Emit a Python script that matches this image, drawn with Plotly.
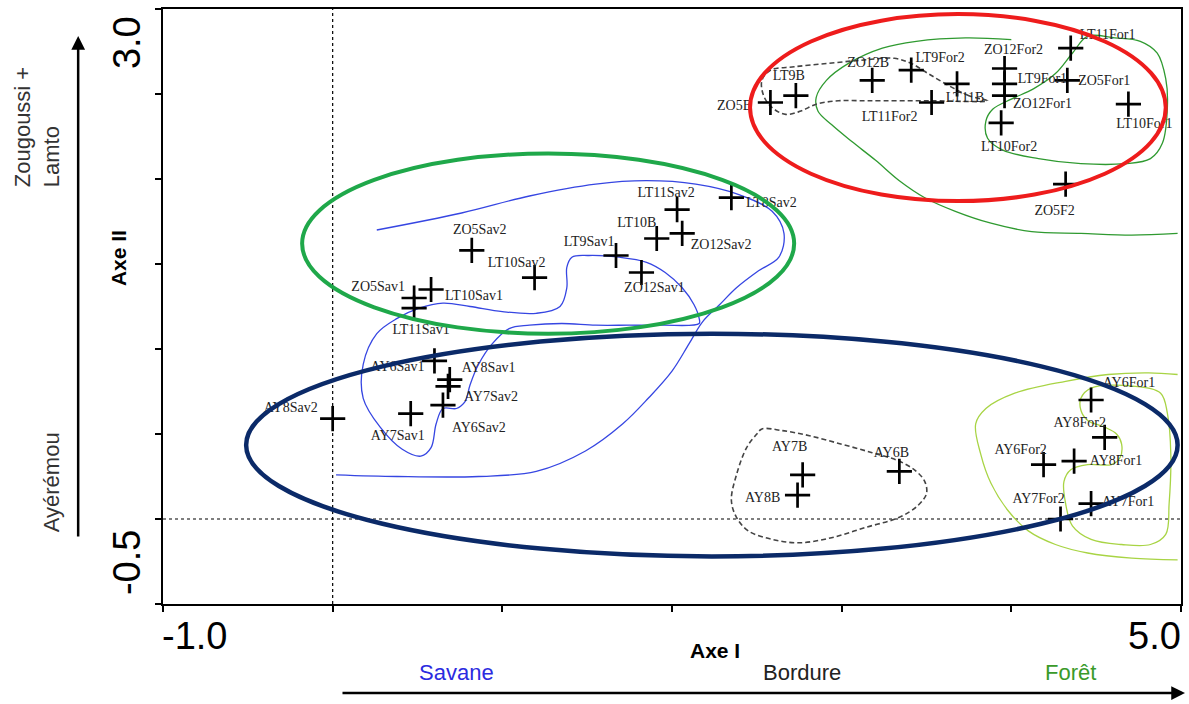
import plotly.graph_objects as go

# ---------------------------------------------------------------- axes
X_RANGE = [-1.0, 5.0]
Y_RANGE = [-0.5, 3.0]

# ---------------------------------------------------------------- samples (Axe I, Axe II)
# Zougoussi + Lamto : forest and forest-edge samples
zl_forest_names = ["ZO5B", "LT9B", "ZO12B", "LT9For2", "LT11B", "LT11For2", "ZO12For2",
                   "LT9For1", "ZO12For1", "LT10For2", "LT11For1", "ZO5For1", "LT10For1", "ZO5F2"]
zl_forest_x = [2.58, 2.73, 3.18, 3.41, 3.68, 3.53, 3.96, 3.96, 3.96, 3.94, 4.35, 4.33, 4.69, 4.32]
zl_forest_y = [2.45, 2.49, 2.58, 2.64, 2.56, 2.45, 2.65, 2.56, 2.49, 2.33, 2.77, 2.58, 2.44, 1.97]

# Zougoussi + Lamto : savanna samples
zl_savane_names = ["LT8Sav2", "LT11Sav2", "LT10B", "ZO12Sav2", "LT9Sav1", "ZO12Sav1",
                   "ZO5Sav2", "LT10Sav2", "ZO5Sav1", "LT10Sav1", "LT11Sav1"]
zl_savane_x = [2.35, 2.03, 1.91, 2.06, 1.67, 1.82, 0.82, 1.19, 0.48, 0.58, 0.48]
zl_savane_y = [1.89, 1.82, 1.65, 1.68, 1.55, 1.45, 1.58, 1.42, 1.30, 1.35, 1.24]

# Ayérémou : savanna samples
ay_savane_names = ["AY8Sav2", "AY6Sav1", "AY8Sav1", "AY7Sav2", "AY6Sav2", "AY7Sav1"]
ay_savane_x = [0.00, 0.60, 0.69, 0.68, 0.65, 0.46]
ay_savane_y = [0.59, 0.93, 0.82, 0.78, 0.67, 0.62]

# Ayérémou : forest-edge samples
ay_bordure_names = ["AY7B", "AY8B", "AY6B"]
ay_bordure_x = [2.77, 2.74, 3.34]
ay_bordure_y = [0.26, 0.14, 0.28]

# Ayérémou : forest samples
ay_foret_names = ["AY6For1", "AY8For2", "AY6For2", "AY8For1", "AY7For2", "AY7For1"]
ay_foret_x = [4.47, 4.55, 4.19, 4.37, 4.29, 4.47]
ay_foret_y = [0.70, 0.48, 0.32, 0.34, 0.00, 0.09]

# ---------------------------------------------------------------- hand-drawn envelopes
savane_outer_x = [0.26, 0.76, 1.16, 1.55, 1.85, 2.14, 2.39, 2.59, 2.66, 2.63, 2.51, 2.38, 2.28,
                  2.18, 2.10, 2.00, 1.86, 1.71, 1.49, 1.20, 0.86, 0.38, 0.02]
savane_outer_y = [1.70, 1.80, 1.90, 1.97, 1.99, 1.97, 1.91, 1.81, 1.68, 1.54, 1.46, 1.36, 1.26,
                  1.16, 1.03, 0.87, 0.71, 0.56, 0.40, 0.28, 0.25, 0.25, 0.26]

savane_inner_x = [2.16, 1.94, 1.75, 1.55, 1.35, 1.16, 1.04, 0.94, 0.86, 0.81, 0.78, 0.73, 0.65,
                  0.61, 0.58, 0.52, 0.41, 0.28, 0.18, 0.18, 0.26, 0.38, 0.51, 0.65, 0.81, 1.00,
                  1.20, 1.34, 1.38, 1.38, 1.41, 1.51, 1.69, 1.85, 1.96, 2.06, 2.13, 2.16, 2.16]
savane_inner_y = [1.15, 1.14, 1.14, 1.14, 1.15, 1.14, 1.12, 1.03, 0.91, 0.79, 0.69, 0.65, 0.65,
                  0.56, 0.42, 0.37, 0.41, 0.54, 0.71, 0.91, 1.09, 1.18, 1.24, 1.27, 1.25, 1.22,
                  1.21, 1.25, 1.36, 1.48, 1.54, 1.55, 1.54, 1.51, 1.45, 1.36, 1.26, 1.18, 1.15]

foret_zl_outer_x = [4.00, 3.73, 3.44, 3.24, 3.04, 2.91, 2.85, 2.86, 2.94, 3.06, 3.20, 3.34, 3.49,
                    3.67, 3.88, 4.12, 4.41, 4.71, 4.98]
foret_zl_outer_y = [2.82, 2.83, 2.81, 2.77, 2.68, 2.58, 2.48, 2.40, 2.32, 2.22, 2.11, 1.99, 1.89,
                    1.81, 1.74, 1.69, 1.68, 1.67, 1.68]

foret_zl_inner_x = [4.45, 4.61, 4.76, 4.86, 4.91, 4.92, 4.89, 4.82, 4.67, 4.41, 4.16, 3.95, 3.86,
                    3.85, 3.89, 4.00, 4.13, 4.26, 4.36, 4.45]
foret_zl_inner_y = [2.84, 2.83, 2.81, 2.74, 2.59, 2.43, 2.21, 2.12, 2.09, 2.09, 2.12, 2.17, 2.24,
                    2.34, 2.41, 2.47, 2.53, 2.62, 2.74, 2.84]

bordure_zl_x = [3.86, 3.75, 3.63, 3.51, 3.41, 3.31, 3.13, 2.92, 2.72, 2.58, 2.53, 2.54, 2.59,
                2.67, 2.76, 2.85, 2.98, 3.16, 3.53, 3.86]
bordure_zl_y = [2.46, 2.49, 2.55, 2.62, 2.68, 2.71, 2.70, 2.68, 2.66, 2.64, 2.58, 2.49, 2.42,
                2.38, 2.40, 2.44, 2.46, 2.46, 2.46, 2.46]

bordure_ay_x = [2.53, 2.65, 2.81, 3.00, 3.18, 3.34, 3.44, 3.49, 3.50, 3.45, 3.34, 3.14, 2.94,
                2.75, 2.59, 2.45, 2.38, 2.35, 2.38, 2.44, 2.50, 2.53]
bordure_ay_y = [0.53, 0.52, 0.49, 0.44, 0.39, 0.34, 0.28, 0.22, 0.15, 0.08, 0.01, -0.05, -0.11,
                -0.14, -0.12, -0.07, 0.01, 0.11, 0.26, 0.42, 0.50, 0.53]

foret_ay_outer_x = [4.98, 4.81, 4.57, 4.32, 4.02, 3.85, 3.79, 3.82, 3.88, 3.98, 4.10, 4.26, 4.45,
                    4.71, 4.98]
foret_ay_outer_y = [0.85, 0.86, 0.85, 0.81, 0.74, 0.65, 0.56, 0.38, 0.21, 0.05, -0.07, -0.15,
                    -0.20, -0.23, -0.24]

foret_ay_inner_x = [4.47, 4.73, 4.88, 4.92, 4.94, 4.93, 4.91, 4.82, 4.65, 4.47, 4.36, 4.32, 4.31,
                    4.35, 4.45, 4.59, 4.64, 4.65, 4.62, 4.55, 4.45, 4.41, 4.41, 4.47]
foret_ay_inner_y = [0.77, 0.78, 0.74, 0.62, 0.38, 0.09, -0.09, -0.15, -0.15, -0.12, -0.04, 0.09,
                    0.22, 0.29, 0.32, 0.32, 0.36, 0.44, 0.50, 0.54, 0.58, 0.64, 0.71, 0.77]

# ---------------------------------------------------------------- group ellipses [x0, x1, y0, y1]
ellipse_zl_foret = [2.46, 4.91, 1.87, 2.97]
ellipse_zl_savane = [-0.18, 2.72, 1.09, 2.15]
ellipse_ayeremou = [-0.51, 4.98, -0.22, 1.09]

# ---------------------------------------------------------------- label placement (pixels: right, down)
label_offset = {
    "ZO5B": (-36, 4), "LT9B": (-7, -19), "ZO12B": (-4, -17), "LT9For2": (29, -12),
    "LT11B": (8, 15), "LT11For2": (-42, 15), "ZO12For2": (9, -18), "LT9For1": (38, -4),
    "ZO12For1": (38, 9), "LT10For2": (8, 25), "LT11For1": (37, -13), "ZO5For1": (37, 1),
    "LT10For1": (16, 20), "ZO5F2": (-11, 27),
    "LT8Sav2": (40, 6), "LT11Sav2": (-11, -16), "LT10B": (-20, -15), "ZO12Sav2": (39, 12),
    "LT9Sav1": (-27, -13), "ZO12Sav1": (13, 16), "ZO5Sav2": (8, -20), "LT10Sav2": (-18, -14),
    "ZO5Sav1": (-36, -11), "LT10Sav1": (43, 7), "LT11Sav1": (7, 22),
    "AY8Sav2": (-42, -10), "AY6Sav1": (-37, 7), "AY8Sav1": (39, -11), "AY7Sav2": (43, 11),
    "AY6Sav2": (36, 23), "AY7Sav1": (-13, 23),
    "AY7B": (-13, -27), "AY8B": (-35, 3), "AY6B": (-8, -18),
    "AY6For1": (38, -17), "AY8For2": (-25, -14), "AY6For2": (-23, -14), "AY8For1": (42, 0),
    "AY7For2": (-22, -20), "AY7For1": (37, -1),
}

# ---------------------------------------------------------------- page geometry
W, H = 1189, 704
M_L, M_R, M_T, M_B = 163, 6, 9, 100
PLOT_W = W - M_L - M_R
PLOT_H = H - M_T - M_B
PX_PER_X = PLOT_W / (X_RANGE[1] - X_RANGE[0])
PX_PER_Y = PLOT_H / (Y_RANGE[1] - Y_RANGE[0])


def paper_x(px):
    return (px - M_L) / PLOT_W


def paper_y(py):
    return (H - M_B - py) / PLOT_H


fig = go.Figure()

# envelopes
def add_curve(xs, ys, color, width=1.3, dash="solid"):
    fig.add_trace(go.Scatter(
        x=xs, y=ys, mode="lines", hoverinfo="skip", showlegend=False,
        line=dict(color=color, width=width, dash=dash, shape="spline", smoothing=1.0),
    ))


BLUE = "#3646e2"
DARK_GREEN = "#2f9a30"
LIGHT_GREEN = "#a8d444"
GREY = "#444444"

add_curve(savane_outer_x, savane_outer_y, BLUE)
add_curve(savane_inner_x, savane_inner_y, BLUE)
add_curve(foret_zl_outer_x, foret_zl_outer_y, DARK_GREEN)
add_curve(foret_zl_inner_x, foret_zl_inner_y, DARK_GREEN)
add_curve(foret_ay_outer_x, foret_ay_outer_y, LIGHT_GREEN)
add_curve(foret_ay_inner_x, foret_ay_inner_y, LIGHT_GREEN)
add_curve(bordure_zl_x, bordure_zl_y, GREY, 1.6, "5px,3px")
add_curve(bordure_ay_x, bordure_ay_y, GREY, 1.6, "5px,3px")

# samples
names = zl_forest_names + zl_savane_names + ay_savane_names + ay_bordure_names + ay_foret_names
xs = zl_forest_x + zl_savane_x + ay_savane_x + ay_bordure_x + ay_foret_x
ys = zl_forest_y + zl_savane_y + ay_savane_y + ay_bordure_y + ay_foret_y

fig.add_trace(go.Scatter(
    x=xs, y=ys, mode="markers", text=names, showlegend=False,
    marker=dict(symbol="cross-thin", size=18, color="black",
                line=dict(color="black", width=2.7)),
))

lab_x = [x + label_offset[n][0] / PX_PER_X for n, x in zip(names, xs)]
lab_y = [y - label_offset[n][1] / PX_PER_Y for n, y in zip(names, ys)]
fig.add_trace(go.Scatter(
    x=lab_x, y=lab_y, mode="text", text=names, textposition="middle center",
    hoverinfo="skip", showlegend=False,
    textfont=dict(family="Liberation Serif", size=14, color="#222222"),
))

# dashed origin lines
fig.add_shape(type="line", xref="x", yref="y", x0=0, x1=0, y0=Y_RANGE[0], y1=Y_RANGE[1],
              line=dict(color="black", width=1.2, dash="3px,3px"), layer="below")
fig.add_shape(type="line", xref="x", yref="y", x0=X_RANGE[0], x1=X_RANGE[1], y0=0, y1=0,
              line=dict(color="black", width=1.2, dash="3px,3px"), layer="below")

# group ellipses
for box, col, wid in [(ellipse_zl_foret, "#ee1c1c", 4),
                      (ellipse_zl_savane, "#1fa84a", 4),
                      (ellipse_ayeremou, "#0b2a68", 4.5)]:
    fig.add_shape(type="circle", xref="x", yref="y", x0=box[0], x1=box[1], y0=box[2], y1=box[3],
                  line=dict(color=col, width=wid), layer="above")

# axis end values, titles and gradient arrows
SANS = "Liberation Sans"


def note(text, px, py, size, color="black", angle=0, bold=False, xanchor="center", align="center"):
    fig.add_annotation(
        text=f"<b>{text}</b>" if bold else text,
        x=paper_x(px), y=paper_y(py), xref="paper", yref="paper",
        xanchor=xanchor, yanchor="middle", showarrow=False, textangle=angle, align=align,
        font=dict(family=SANS, size=size, color=color),
    )


note("-1.0", 160, 636, 38, xanchor="left")
note("5.0", 1185, 636, 38, xanchor="right")
note("3.0", 127, 43, 38, angle=-90)
note("-0.5", 127, 563, 38, angle=-90)
note("Axe II", 118, 258, 21, angle=-90, bold=True)
note("Zougoussi +<br>Lamto", 37, 127, 22, color="#333333", angle=-90, align="left")
note("Ayérémou", 51, 482, 22, color="#333333", angle=-90)
note("Axe I", 716, 650, 21, bold=True)
note("Savane", 457, 672, 22, color="#2b2be0")
note("Bordure", 803, 672, 22, color="#222222")
note("Forêt", 1072, 672, 22, color="#3a9a2a")

# vertical arrow (Zougoussi + Lamto up, Ayérémou down)
fig.add_annotation(text="", x=paper_x(78), y=paper_y(36), xref="paper", yref="paper",
                   ax=0, ay=502, axref="pixel", ayref="pixel", showarrow=True,
                   arrowhead=2, arrowsize=1.1, arrowwidth=2.5, arrowcolor="black")
# horizontal arrow (savanna -> forest)
fig.add_annotation(text="", x=paper_x(1187), y=paper_y(693), xref="paper", yref="paper",
                   ax=-844, ay=0, axref="pixel", ayref="pixel", showarrow=True,
                   arrowhead=2, arrowsize=1.1, arrowwidth=2.5, arrowcolor="black")

axis_common = dict(showgrid=False, zeroline=False, showline=True, linecolor="black", linewidth=2,
                   mirror=True, ticks="outside", ticklen=6, tickwidth=2, tickcolor="black",
                   showticklabels=False, fixedrange=True)
fig.update_xaxes(range=X_RANGE, tick0=-1, dtick=1, **axis_common)
fig.update_yaxes(range=Y_RANGE, tick0=-0.5, dtick=0.5, **axis_common)

fig.update_layout(
    width=W, height=H,
    margin=dict(l=M_L, r=M_R, t=M_T, b=M_B),
    plot_bgcolor="white", paper_bgcolor="white",
    showlegend=False,
)

fig.write_html("out.html")
